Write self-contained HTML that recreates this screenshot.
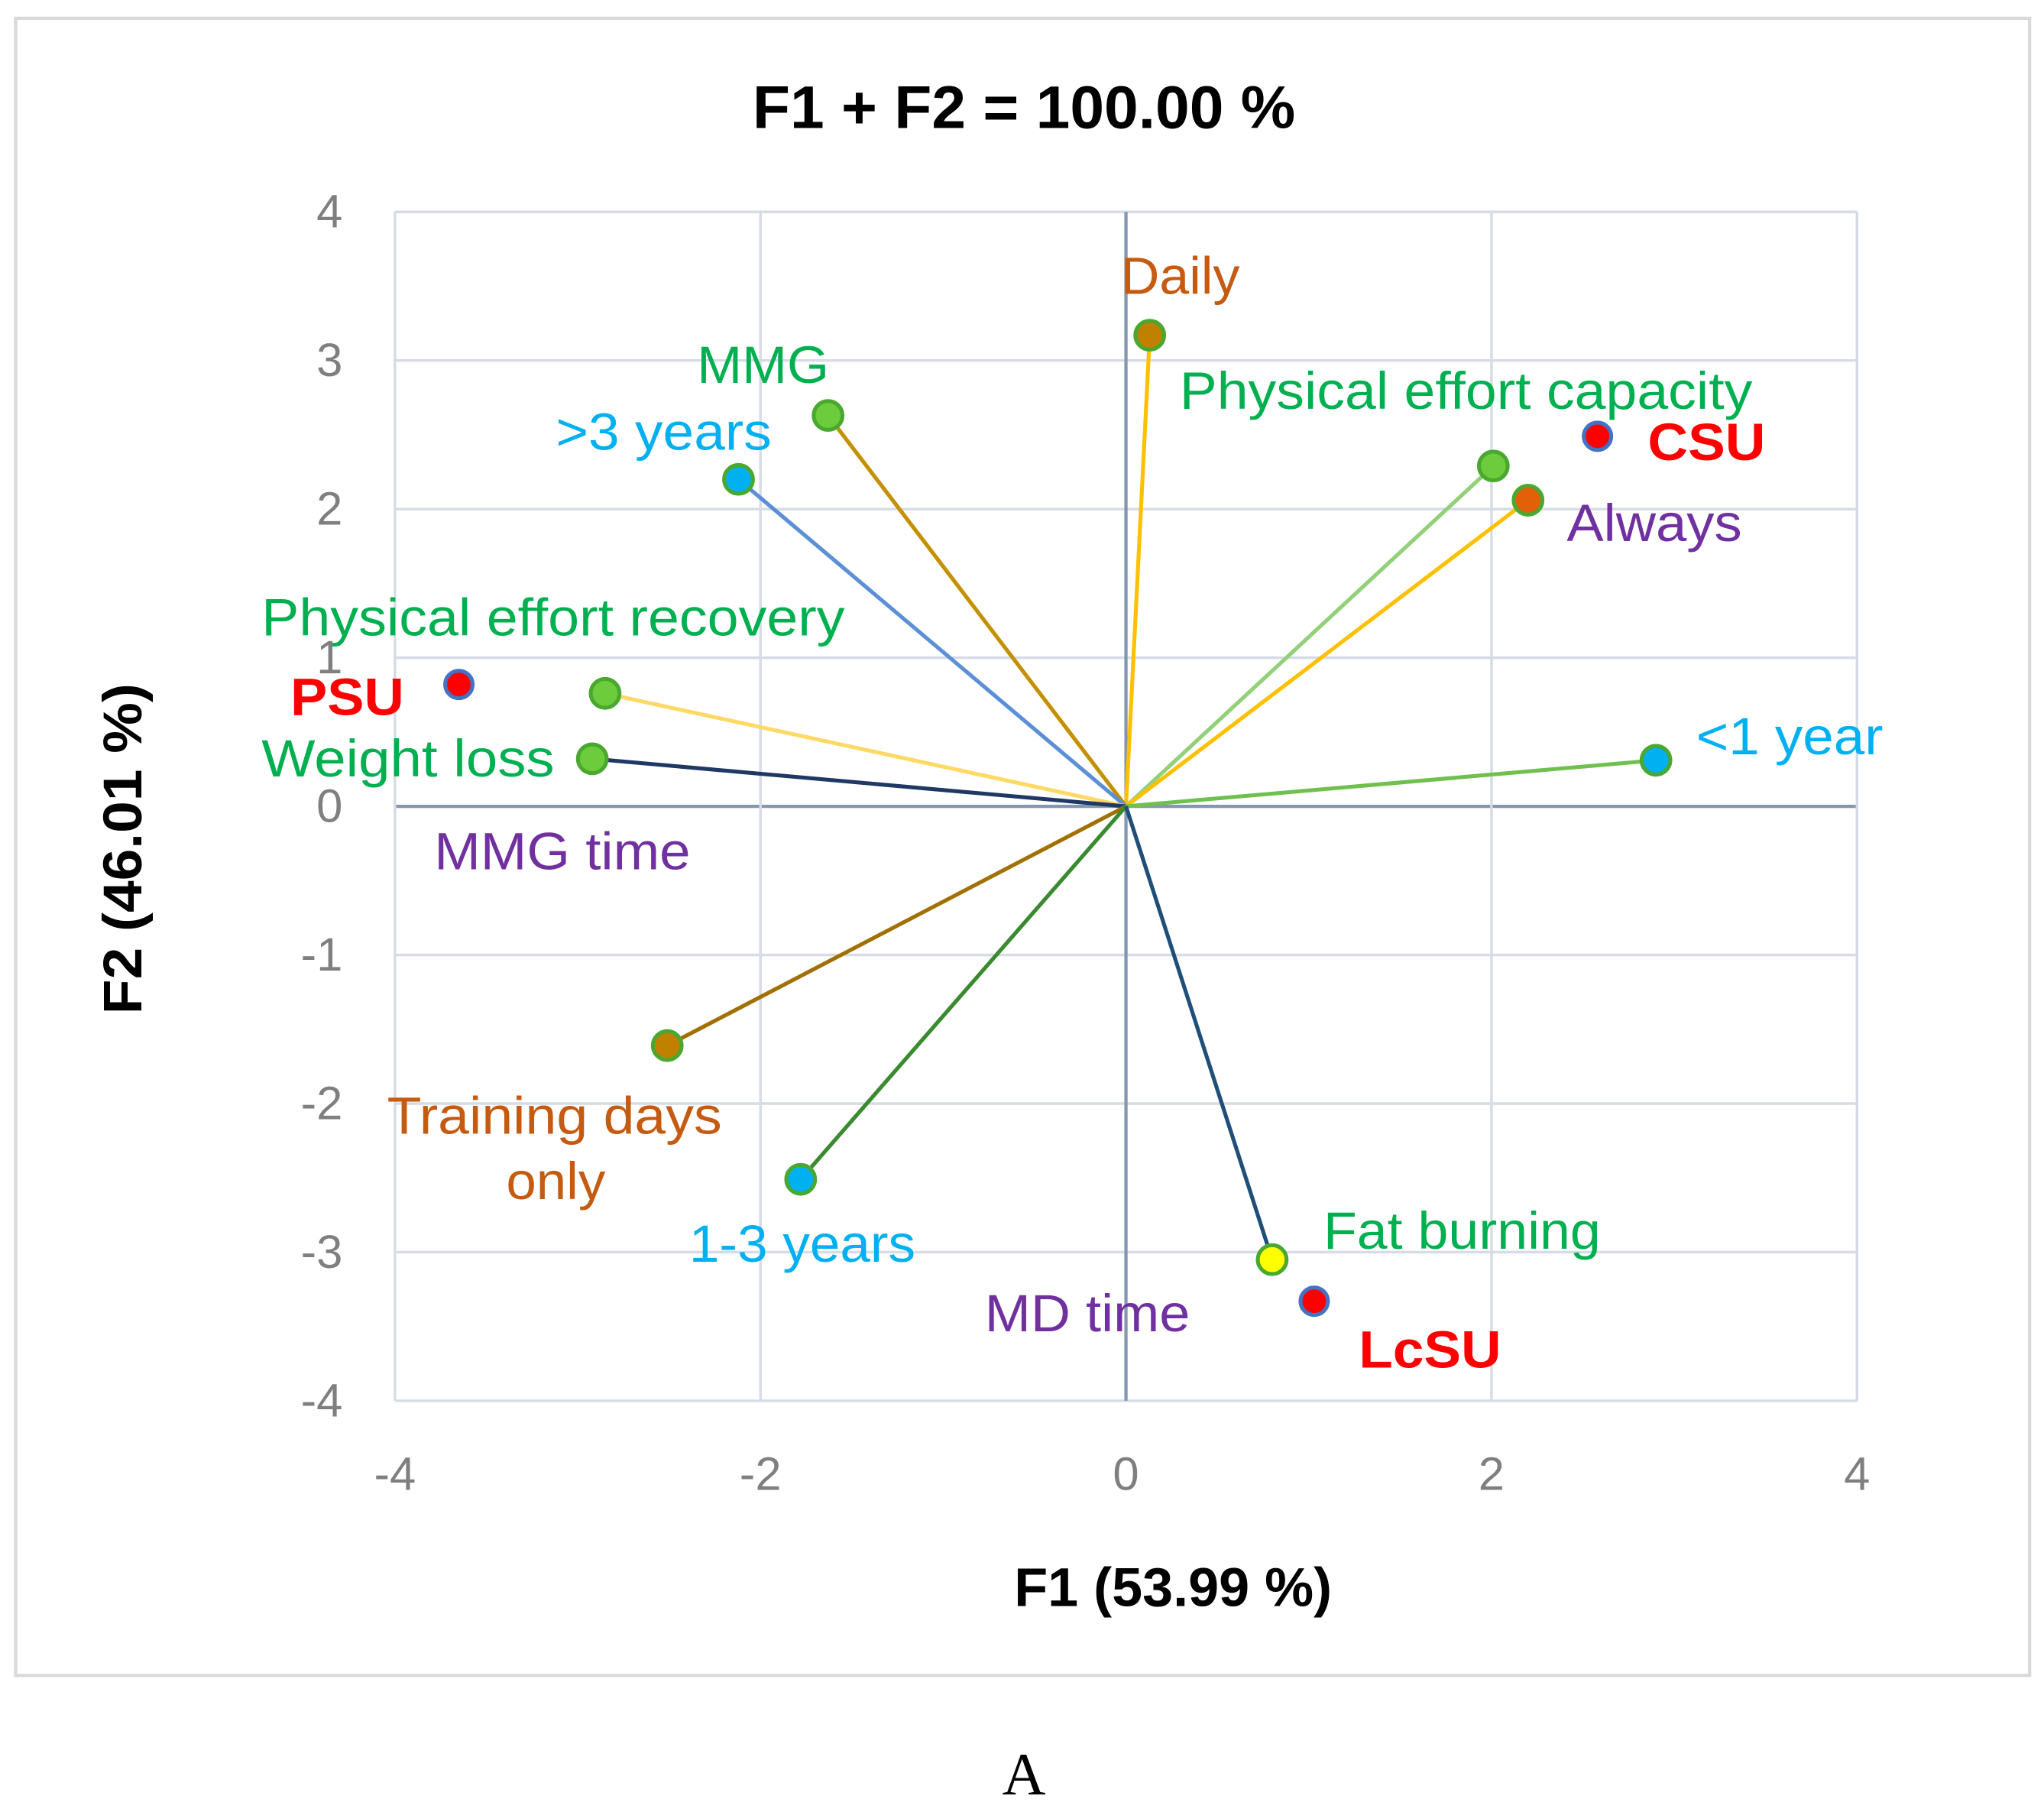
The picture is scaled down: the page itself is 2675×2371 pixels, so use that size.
<!DOCTYPE html>
<html><head><meta charset="utf-8"><style>
html,body{margin:0;padding:0;background:#fff;}
svg{display:block;}
text{font-family:"Liberation Sans",sans-serif;}
</style></head><body>
<svg id="chart" width="2675" height="2371" viewBox="0 0 1563 1385.4" preserveAspectRatio="none" xmlns="http://www.w3.org/2000/svg">
<rect x="12" y="14" width="1540" height="1267" fill="#fff" stroke="#d9d9d9" stroke-width="2.5"/>
<text x="783" y="82" font-size="46" font-weight="bold" text-anchor="middle" dominant-baseline="central" textLength="415" lengthAdjust="spacingAndGlyphs">F1 + F2 = 100.00 %</text>
<g id="grid"></g>
<g id="ticks"></g>
<g id="vectors"></g>
<g id="points"></g>
<g id="labels"></g>
<text x="897" y="1214" font-size="42" font-weight="bold" text-anchor="middle" dominant-baseline="central" textLength="243" lengthAdjust="spacingAndGlyphs">F1 (53.99 %)</text>
<text transform="translate(94,649) rotate(-90)" font-size="42" font-weight="bold" text-anchor="middle" dominant-baseline="central" textLength="253" lengthAdjust="spacingAndGlyphs">F2 (46.01 %)</text>
<text x="783" y="1357" font-size="46" text-anchor="middle" dominant-baseline="central" style="font-family:'Liberation Serif',serif">A</text>
</svg>
<script>
const names = ["Daily","MMG",">3 years","Physical effort capacity","Always","CSU","PSU","Physical effort recovery","Weight loss","<1 year","Training days only","1-3 years","Fat burning","LcSU"];
const f1 = [0.13,-1.63,-2.12,2.01,2.20,2.58,-3.65,-2.85,-2.92,2.90,-2.51,-1.78,0.80,1.03];
const f2 = [3.17,2.63,2.20,2.29,2.06,2.49,0.82,0.76,0.32,0.31,-1.61,-2.51,-3.05,-3.33];
const hasVector = [1,1,1,1,1,0,0,1,1,1,1,1,1,0];
const ticks = [-4,-3,-2,-1,0,1,2,3,4];
const xTicks = [-4,-2,0,2,4];
const lineColors = ["#ffc000","#c49000","#5b8fd6","#92d07a","#ffc000","","","#ffd966","#1f3864","#70c050","#a07000","#3a8a30","#1f4e79",""];
const fillColors = ["#c08000","#6ccc3c","#00b0f0","#6ccc3c","#e2600a","#ff0000","#ff0000","#6ccc3c","#6ccc3c","#00b0f0","#c08000","#00b0f0","#ffff00","#ff0000"];
const edgeColors = ["#4aa830","#4aa830","#4aa830","#4aa830","#4aa830","#4472c4","#4472c4","#4aa830","#4aa830","#4aa830","#4aa830","#4aa830","#4aa830","#4472c4"];

const NS="http://www.w3.org/2000/svg";
const X0=302,X1=1420,Y0=1071,Y1=162;
function sx(v){return X0+(v+4)/8*(X1-X0);}
function sy(v){return Y0-(v+4)/8*(Y0-Y1);}
function mk(tag,attrs,parent){const e=document.createElementNS(NS,tag);for(const k in attrs)e.setAttribute(k,attrs[k]);parent.appendChild(e);return e;}
const grid=document.getElementById('grid'),tk=document.getElementById('ticks'),vec=document.getElementById('vectors'),pts=document.getElementById('points'),lab=document.getElementById('labels');
ticks.forEach(t=>{
  const l=mk('line',{x1:X0,x2:X1,y1:sy(t),y2:sy(t),stroke:t===0?'#8497b0':'#d6dce5','stroke-width':t===0?2.5:2},grid);
  
  
  const tx=mk('text',{x:262,y:sy(t),'font-size':36,fill:'#7f7f7f','text-anchor':'end','dominant-baseline':'central'},tk);
  tx.textContent=t;
  
  
});
xTicks.forEach(t=>{
  const l=mk('line',{x1:sx(t),x2:sx(t),y1:Y1,y2:Y0,stroke:t===0?'#8497b0':'#d6dce5','stroke-width':t===0?2.5:2},grid);
  
  
  const tx=mk('text',{x:sx(t),y:1127,'font-size':36,fill:'#7f7f7f','text-anchor':'middle','dominant-baseline':'central'},tk);
  tx.textContent=t;
  
  
});
names.forEach((n,i)=>{
  if(hasVector[i]){
    const l=mk('line',{x1:sx(0),y1:sy(0),x2:sx(f1[i]),y2:sy(f2[i]),stroke:lineColors[i],'stroke-width':3},vec);
    
    
  }
  const c=mk('circle',{cx:sx(f1[i]),cy:sy(f2[i]),r:hasVector[i]?11:10.5,fill:fillColors[i],stroke:edgeColors[i],'stroke-width':3},pts);
  
  
});
// label placements: [text, x-left, y-center, width, color, bold]
const labelText=["Daily","MMG",">3 years","Physical effort capacity","CSU","Always","Physical effort recovery","PSU","Weight loss","<1 year","MMG time","Training days","only","1-3 years","Fat burning","MD time","LcSU"];
const lx=[857,533,425,902,1260,1198,200,222,200,1297,332,296,387,527,1012,753,1039];
const ly=[211,279,330,299,338,400,472,533,580,563,651,853,903,951,941,1004,1032];
const lw=[91,101,165,438,90,134,446,87,224,143,196,256,76,173,212,157,109];
const lc=["#c55a11","#00b050","#00b0f0","#00b050","#ff0000","#7030a0","#00b050","#ff0000","#00b050","#00b0f0","#7030a0","#c55a11","#c55a11","#00b0f0","#00b050","#7030a0","#ff0000"];
const lb=[0,0,0,0,1,0,0,1,0,0,0,0,0,0,0,0,1];
labelText.forEach((t,i)=>{
  const e=mk('text',{x:lx[i],y:ly[i],'font-size':40,fill:lc[i],'font-weight':lb[i]?'bold':'normal','dominant-baseline':'central',textLength:lw[i],lengthAdjust:'spacingAndGlyphs'},lab);
  e.textContent=t;
  
  
});
</script>
</body></html>
